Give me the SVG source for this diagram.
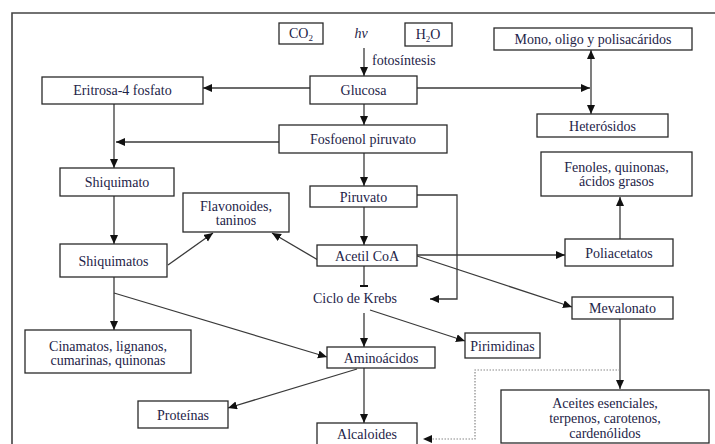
<svg xmlns="http://www.w3.org/2000/svg" width="715" height="444" viewBox="0 0 715 444">
<style>
.b{fill:#fff;stroke:#2a2a2a;stroke-width:1.3}
.t{font-family:"Liberation Serif","Times New Roman",serif;font-size:14px;fill:#1e2448;text-anchor:middle}
.c{fill:none;stroke:#3a3a3a;stroke-width:1.3}
.a{marker-end:url(#ah)}
.d{fill:none;stroke:#888;stroke-width:1.2;stroke-dasharray:1.5 1.5}
</style>
<defs>
<marker id="ah" markerUnits="userSpaceOnUse" markerWidth="10" markerHeight="10" refX="9" refY="4" orient="auto-start-reverse"><path d="M0,0 L9,4 L0,8 z" fill="#111"/></marker>
</defs>
<rect width="715" height="444" fill="#fff"/>
<path d="M12,444 V13 H715" fill="none" stroke="#444" stroke-width="1.6"/>
<g id="connectors">
<path class="c a" d="M364,48 V76"/>
<path class="c a" d="M310,88 H203"/>
<path class="c a" d="M417,88 H590"/>
<path class="c a" d="M591,50 V114" marker-start="url(#ah)"/>
<path class="c a" d="M364,104 V125"/>
<path class="c a" d="M114,104 V168"/>
<path class="c a" d="M279,142 H116"/>
<path class="c a" d="M114,196 V244"/>
<path class="c a" d="M364,153 V186"/>
<path class="c a" d="M364,207 V245"/>
<path class="c a" d="M417,195 H457 V299 H430"/>
<path class="c a" d="M168,265 L213,233"/>
<path class="c a" d="M318,260 L272,233"/>
<path class="c" d="M364,266 V286"/>
<path d="M360,286 H368" stroke="#111" stroke-width="2"/>
<path class="c a" d="M417,255 H565"/>
<path class="c a" d="M620,239 V197"/>
<path class="c a" d="M417,256 L572,307"/>
<path class="c a" d="M620,319 V389"/>
<path class="d" d="M620,370 H475 V439 H432"/>
<path d="M423,439 L432,435 L432,443 z" fill="#111"/>
<path class="c a" d="M370,310 L465,341"/>
<path class="c a" d="M364,313 V347"/>
<path class="c a" d="M114,277 V330"/>
<path class="c a" d="M114,293 L327,357"/>
<path class="c a" d="M357,369 L228,408"/>
<path class="c a" d="M364,368 V423"/>
</g>
<g id="co2"><rect class="b" x="279" y="23" width="44" height="21"/><text class="t" x="301" y="38">CO<tspan font-size="9" dy="3">2</tspan></text></g>
<g id="hv"><text class="t" x="361" y="38" font-style="italic">hv</text></g>
<g id="h2o"><rect class="b" x="405" y="23" width="47" height="23"/><text class="t" x="428" y="39">H<tspan font-size="9" dy="3">2</tspan><tspan dy="-3">O</tspan></text></g>
<g id="fotosintesis"><text class="t" x="372" y="65" style="text-anchor:start">fotosíntesis</text></g>
<g id="glucosa"><rect class="b" x="310" y="76" width="107" height="28"/><text class="t" x="363.5" y="95">Glucosa</text></g>
<g id="eritrosa"><rect class="b" x="42" y="77" width="161" height="27"/><text class="t" x="122.5" y="95">Eritrosa-4 fosfato</text></g>
<g id="mono"><rect class="b" x="494" y="28" width="198" height="22"/><text class="t" x="593" y="44">Mono, oligo y polisacáridos</text></g>
<g id="heterosidos"><rect class="b" x="537" y="114" width="131" height="23"/><text class="t" x="602.5" y="130.5">Heterósidos</text></g>
<g id="fosfoenol"><rect class="b" x="279" y="125" width="168" height="28"/><text class="t" x="363" y="144">Fosfoenol piruvato</text></g>
<g id="shiquimato"><rect class="b" x="60" y="168" width="114" height="28"/><text class="t" x="117" y="187">Shiquimato</text></g>
<g id="flavonoides"><rect class="b" x="183" y="193" width="106" height="39"/><text class="t" x="236" y="211">Flavonoides,</text><text class="t" x="236" y="225">taninos</text></g>
<g id="piruvato"><rect class="b" x="310" y="186" width="107" height="21"/><text class="t" x="363.5" y="201.5">Piruvato</text></g>
<g id="fenoles"><rect class="b" x="541" y="152" width="151" height="44"/><text class="t" x="616.5" y="172">Fenoles, quinonas,</text><text class="t" x="616.5" y="186">ácidos grasos</text></g>
<g id="shiquimatos"><rect class="b" x="60" y="244" width="107" height="33"/><text class="t" x="113.5" y="265.5">Shiquimatos</text></g>
<g id="acetil"><rect class="b" x="317" y="245" width="100" height="21"/><text class="t" x="367" y="260.5">Acetil CoA</text></g>
<g id="poliacetatos"><rect class="b" x="565" y="239" width="108" height="27"/><text class="t" x="619" y="257.5">Poliacetatos</text></g>
<g id="krebs"><text class="t" x="355" y="303">Ciclo de Krebs</text></g>
<g id="mevalonato"><rect class="b" x="572" y="297" width="101" height="22"/><text class="t" x="622.5" y="313">Mevalonato</text></g>
<g id="cinamatos"><rect class="b" x="25" y="330" width="166" height="43"/><text class="t" x="108" y="351">Cinamatos, lignanos,</text><text class="t" x="108" y="365">cumarinas, quinonas</text></g>
<g id="pirimidinas"><rect class="b" x="465" y="333" width="75" height="25"/><text class="t" x="502.5" y="350.5">Pirimidinas</text></g>
<g id="aminoacidos"><rect class="b" x="327" y="347" width="108" height="21"/><text class="t" x="381" y="362.5">Aminoácidos</text></g>
<g id="aceites"><rect class="b" x="501" y="390" width="208" height="53"/><text class="t" x="605" y="407.5">Aceites esenciales,</text><text class="t" x="605" y="423">terpenos, carotenos,</text><text class="t" x="605" y="438">cardenólidos</text></g>
<g id="proteinas"><rect class="b" x="138" y="401" width="90" height="27"/><text class="t" x="183" y="419.5">Proteínas</text></g>
<g id="alcaloides"><rect class="b" x="317" y="423" width="100" height="23"/><text class="t" x="367" y="439">Alcaloides</text></g>
</svg>
